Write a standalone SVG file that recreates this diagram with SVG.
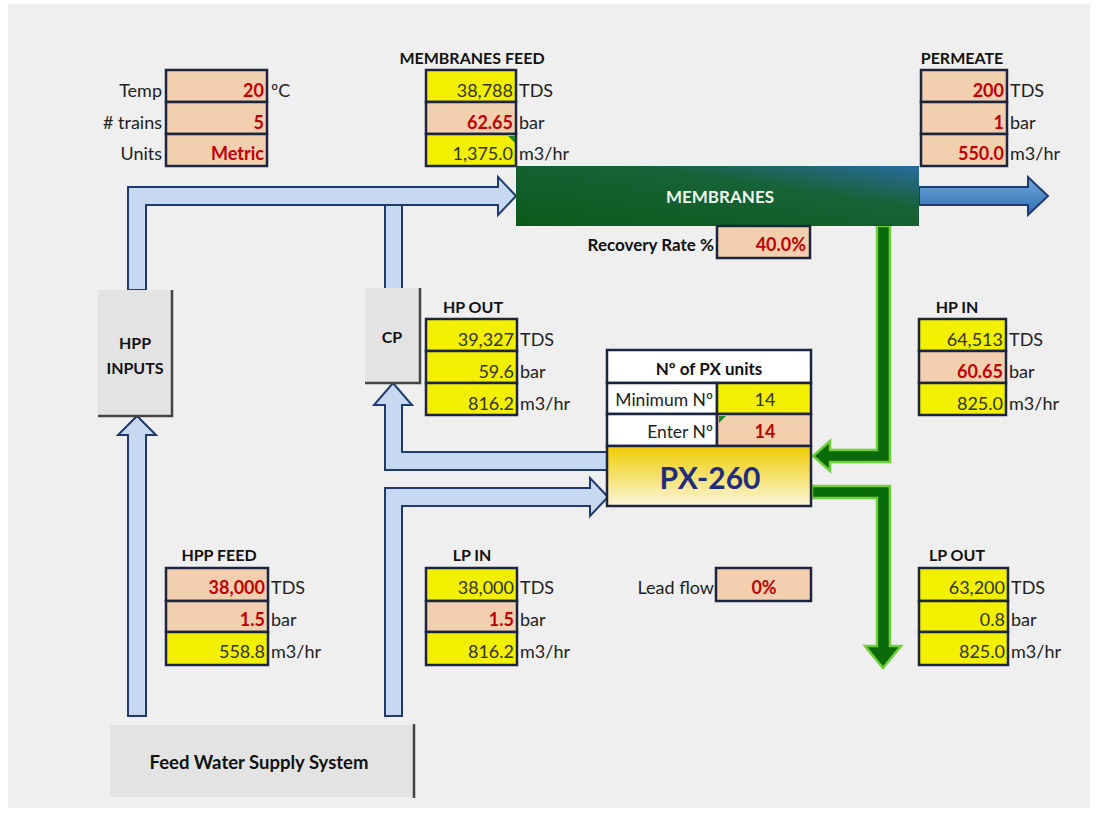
<svg xmlns="http://www.w3.org/2000/svg" width="1098" height="814" viewBox="0 0 1098 814">
<defs>
<style>
text{font-family:Lato,"Open Sans","Liberation Sans",sans-serif;}
.cellY{fill:#f2f000;stroke:#1c2540;stroke-width:2.5}
.cellP{fill:#f2cfae;stroke:#1c2540;stroke-width:2.5}
.cellW{fill:#ffffff;stroke:#1c2540;stroke-width:2.5}
.v{font-size:18px;fill:#33331a;text-anchor:end}
.vr{font-size:18px;fill:#c00000;font-weight:bold;text-anchor:end}
.u{font-size:18px;fill:#222}
.lbl{font-size:18px;fill:#222;text-anchor:end}
.ttl{font-size:16px;font-weight:bold;fill:#111;text-anchor:middle}
.gbox{fill:#e3e3e3}
.shadow{fill:none;stroke:#444;stroke-width:2.5}
.barrow{fill:#c6d9f0;stroke:#1f3a6e;stroke-width:2;stroke-linejoin:miter}
.garrow{fill:#0a6b0a;stroke:#6fcf3a;stroke-width:2.5;stroke-linejoin:miter}
.flag{fill:#1e8a2e}
</style>
<linearGradient id="memGrad" x1="0" y1="1" x2="1" y2="0">
<stop offset="0" stop-color="#0b5a1a"/>
<stop offset="0.65" stop-color="#176338"/>
<stop offset="1" stop-color="#2a6aa0"/>
</linearGradient>
<linearGradient id="pxGrad" x1="0" y1="0" x2="0" y2="1">
<stop offset="0" stop-color="#f0cc00"/>
<stop offset="1" stop-color="#fbf6dc"/>
</linearGradient>
<linearGradient id="outGrad" x1="0" y1="0" x2="0" y2="1">
<stop offset="0" stop-color="#6fa8dc"/>
<stop offset="1" stop-color="#2f6fb0"/>
</linearGradient>
</defs>
<rect x="0" y="0" width="1098" height="814" fill="#ffffff"/>
<rect x="8" y="4" width="1082" height="804" fill="#efefef"/>

<g id="connectors">
<path class="barrow" d="M128,290 L128,187 L498,187 L498,177 L516,196 L498,215 L498,205 L146,205 L146,290 Z"/>
<rect x="385" y="206" width="17" height="82" fill="#c6d9f0"/>
<path d="M385,205 L385,288 M402,205 L402,288" stroke="#1f3a6e" stroke-width="2" fill="none"/>
<path fill="url(#outGrad)" stroke="#1f3a6e" stroke-width="2" d="M919,187 L1028,187 L1028,177 L1048,196 L1028,215 L1028,205 L919,205 Z"/>
<path class="barrow" d="M128,716 L128,435 L118,435 L137,416 L156,435 L146,435 L146,716 Z"/>
<path class="barrow" d="M610,452 L402,452 L402,405 L412,405 L393,383 L374,405 L385,405 L385,470 L610,470 Z"/>
<path class="barrow" d="M385,716 L385,488 L590,488 L590,478 L608,497 L590,516 L590,506 L402,506 L402,716 Z"/>
<path class="garrow" d="M877,226 L877,450 L830,450 L830,441 L813,456 L830,471 L830,462 L890,462 L890,226 Z"/>
<path class="garrow" d="M812,486 L890,486 L890,646 L901,646 L883,668 L865,646 L877,646 L877,498 L812,498 Z"/>
</g>

<g id="settings">
<rect class="cellP" x="166" y="70" width="101" height="32"/>
<rect class="cellP" x="166" y="102" width="101" height="32"/>
<rect class="cellP" x="166" y="134" width="101" height="32"/>
<text class="lbl" x="162" y="97">Temp</text>
<text class="lbl" x="162" y="129"># trains</text>
<text class="lbl" x="162" y="160">Units</text>
<text class="vr" x="264" y="97">20</text>
<text class="vr" x="264" y="129">5</text>
<text class="vr" x="264" y="160">Metric</text>
<text class="u" x="271" y="97">ºC</text>
</g>

<g id="membranes-feed">
<text class="ttl" x="472" y="64">MEMBRANES FEED</text>
<rect class="cellY" x="426" y="70" width="90" height="32"/>
<rect class="cellP" x="426" y="102" width="90" height="32"/>
<rect class="cellY" x="426" y="134" width="90" height="32"/>
<polygon class="flag" points="508,136 515,136 515,143"/>
<text class="v" x="513" y="97">38,788</text>
<text class="vr" x="513" y="129">62.65</text>
<text class="v" x="513" y="160">1,375.0</text>
<text class="u" x="519" y="97">TDS</text>
<text class="u" x="519" y="129">bar</text>
<text class="u" x="519" y="160">m3/hr</text>
</g>

<g id="permeate">
<text class="ttl" x="962" y="64">PERMEATE</text>
<rect class="cellP" x="921" y="70" width="86" height="32"/>
<rect class="cellP" x="921" y="102" width="86" height="32"/>
<rect class="cellP" x="921" y="134" width="86" height="32"/>
<text class="vr" x="1004" y="97">200</text>
<text class="vr" x="1004" y="129">1</text>
<text class="vr" x="1004" y="160">550.0</text>
<text class="u" x="1010" y="97">TDS</text>
<text class="u" x="1010" y="129">bar</text>
<text class="u" x="1010" y="160">m3/hr</text>
</g>

<g id="membranes">
<rect x="516" y="166" width="403" height="60" fill="url(#memGrad)"/>
<text x="720" y="203" font-size="17" font-weight="bold" fill="#eef6ee" text-anchor="middle">MEMBRANES</text>
</g>

<g id="recovery">
<text x="714" y="251" font-size="17" font-weight="bold" fill="#111" text-anchor="end">Recovery Rate %</text>
<rect class="cellP" x="717" y="226" width="93" height="32"/>
<text class="vr" x="806" y="251">40.0%</text>
</g>

<g id="hpp-inputs">
<rect class="gbox" x="98" y="290" width="74" height="125"/>
<path class="shadow" d="M172,290 L172,416 L98,416"/>
<text x="135" y="349" font-size="16" font-weight="bold" fill="#111" text-anchor="middle">HPP</text>
<text x="135" y="374" font-size="16" font-weight="bold" fill="#111" text-anchor="middle">INPUTS</text>
</g>

<g id="cp">
<rect class="gbox" x="365" y="288" width="55" height="94"/>
<path class="shadow" d="M420,288 L420,383 L365,383"/>
<text x="392" y="343" font-size="16" font-weight="bold" fill="#111" text-anchor="middle">CP</text>
</g>

<g id="hp-out">
<text class="ttl" x="473" y="313">HP OUT</text>
<rect class="cellY" x="426" y="319" width="91" height="32"/>
<rect class="cellY" x="426" y="351" width="91" height="32"/>
<rect class="cellY" x="426" y="383" width="91" height="32"/>
<text class="v" x="514" y="346">39,327</text>
<text class="v" x="514" y="378">59.6</text>
<text class="v" x="514" y="410">816.2</text>
<text class="u" x="520" y="346">TDS</text>
<text class="u" x="520" y="378">bar</text>
<text class="u" x="520" y="410">m3/hr</text>
</g>

<g id="hp-in">
<text class="ttl" x="957" y="313">HP IN</text>
<rect class="cellY" x="919" y="319" width="87" height="32"/>
<rect class="cellP" x="919" y="351" width="87" height="32"/>
<rect class="cellY" x="919" y="383" width="87" height="32"/>
<text class="v" x="1003" y="346">64,513</text>
<text class="vr" x="1003" y="378">60.65</text>
<text class="v" x="1003" y="410">825.0</text>
<text class="u" x="1009" y="346">TDS</text>
<text class="u" x="1009" y="378">bar</text>
<text class="u" x="1009" y="410">m3/hr</text>
</g>

<g id="px-units">
<rect class="cellW" x="607" y="350" width="204" height="33"/>
<rect class="cellW" x="607" y="383" width="110" height="31"/>
<rect class="cellY" x="717" y="383" width="94" height="31"/>
<rect class="cellW" x="607" y="414" width="110" height="32"/>
<rect class="cellP" x="717" y="414" width="94" height="32"/>
<polygon class="flag" points="719,416 726,416 719,423"/>
<text x="709" y="375" font-size="17" font-weight="bold" fill="#111" text-anchor="middle">Nº of PX units</text>
<text x="713" y="406" font-size="17.5" fill="#222" text-anchor="end">Minimum Nº</text>
<text x="713" y="438" font-size="17.5" fill="#222" text-anchor="end">Enter Nº</text>
<text x="765" y="406" font-size="18" fill="#33331a" text-anchor="middle">14</text>
<text x="765" y="438" font-size="18" font-weight="bold" fill="#c00000" text-anchor="middle">14</text>
</g>

<g id="px-260">
<rect x="607" y="446" width="204" height="60" fill="url(#pxGrad)" stroke="#1c2540" stroke-width="2.5"/>
<text x="710" y="489" font-size="30" font-weight="bold" fill="#1f2d7a" text-anchor="middle">PX-260</text>
</g>

<g id="hpp-feed">
<text class="ttl" x="219" y="561">HPP FEED</text>
<rect class="cellP" x="166" y="568" width="102" height="33"/>
<rect class="cellP" x="166" y="601" width="102" height="31"/>
<rect class="cellY" x="166" y="632" width="102" height="33"/>
<text class="vr" x="265" y="594">38,000</text>
<text class="vr" x="265" y="626">1.5</text>
<text class="v" x="265" y="658">558.8</text>
<text class="u" x="271" y="594">TDS</text>
<text class="u" x="271" y="626">bar</text>
<text class="u" x="271" y="658">m3/hr</text>
</g>

<g id="lp-in">
<text class="ttl" x="472" y="561">LP IN</text>
<rect class="cellY" x="426" y="568" width="91" height="33"/>
<rect class="cellP" x="426" y="601" width="91" height="31"/>
<rect class="cellY" x="426" y="632" width="91" height="33"/>
<text class="v" x="514" y="594">38,000</text>
<text class="vr" x="514" y="626">1.5</text>
<text class="v" x="514" y="658">816.2</text>
<text class="u" x="520" y="594">TDS</text>
<text class="u" x="520" y="626">bar</text>
<text class="u" x="520" y="658">m3/hr</text>
</g>

<g id="lead-flow">
<text x="714" y="594" font-size="18" fill="#222" text-anchor="end">Lead flow</text>
<rect class="cellP" x="716" y="568" width="95" height="33"/>
<text x="764" y="594" font-size="18" font-weight="bold" fill="#c00000" text-anchor="middle">0%</text>
</g>

<g id="lp-out">
<text class="ttl" x="957" y="561">LP OUT</text>
<rect class="cellY" x="919" y="568" width="89" height="33"/>
<rect class="cellY" x="919" y="601" width="89" height="31"/>
<rect class="cellY" x="919" y="632" width="89" height="33"/>
<text class="v" x="1005" y="594">63,200</text>
<text class="v" x="1005" y="626">0.8</text>
<text class="v" x="1005" y="658">825.0</text>
<text class="u" x="1011" y="594">TDS</text>
<text class="u" x="1011" y="626">bar</text>
<text class="u" x="1011" y="658">m3/hr</text>
</g>

<g id="feed-water">
<rect class="gbox" x="110" y="725" width="304" height="72"/>
<path d="M414,724 L414,798" stroke="#444" stroke-width="2.5"/>
<text x="259" y="769" font-size="18.5" font-weight="bold" fill="#111" text-anchor="middle">Feed Water Supply System</text>
</g>
</svg>
